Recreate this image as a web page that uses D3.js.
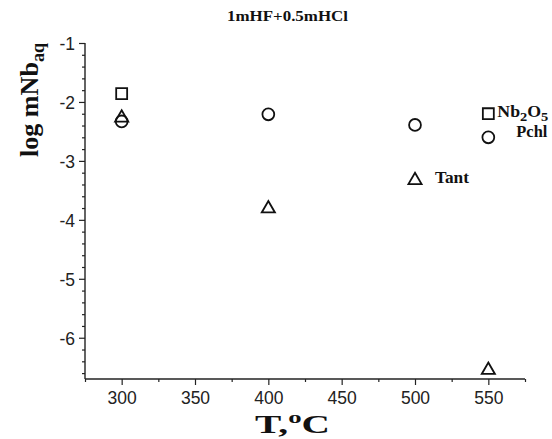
<!DOCTYPE html>
<html>
<head>
<meta charset="utf-8">
<script src="https://cdn.jsdelivr.net/npm/d3@7"></script>
<style>
  html, body { margin: 0; padding: 0; background: #fff; }
  svg { display: block; }
  .tick text { font-family: "Liberation Sans", Arial, sans-serif; font-size: 17.5px; fill: #222; }
  .serif { font-family: "Liberation Serif", "Times New Roman", serif; font-weight: bold; fill: #111; }
</style>
</head>
<body>
<svg id="chart" width="552" height="439"></svg>
<script>
// Temperatures (°C) and log molality of dissolved Nb for each solid phase
const temps = [300, 400, 500, 550];
const nb2o5 = [-1.86, null, null, -2.20];
const pchl = [-2.33, -2.21, -2.39, -2.60];
const tant = [-2.27, -3.81, -3.33, -6.55];

const xTicks = [300, 350, 400, 450, 500, 550];
const yTicks = [-1, -2, -3, -4, -5, -6];

const margin = { left: 85, right: 27, top: 43, bottom: 60 };
const W = 552, H = 439;

const svg = d3.select("#chart");

const x = d3.scaleLinear().domain([275, 575]).range([margin.left, W - margin.right]);
const y = d3.scaleLinear().domain([-6.7, -1]).range([H - margin.bottom, margin.top]);

const axisColor = "#222";
const plain = d => String(d);   // ASCII hyphen for negatives

// Minor ticks
const xMinor = d3.range(275, 576, 50);
const yMinor = d3.range(-6.6, -1.0, 0.2).map(v => +v.toFixed(1)).filter(v => !Number.isInteger(v));

const gx = svg.append("g").attr("transform", `translate(0,${y(-6.7)})`);
gx.call(d3.axisBottom(x).tickValues(xTicks).tickSize(6).tickPadding(6).tickFormat(plain));
gx.append("g").call(d3.axisBottom(x).tickValues(xMinor).tickSize(3).tickFormat(""))
  .select(".domain").remove();

const gy = svg.append("g").attr("transform", `translate(${x(275)},0)`);
gy.call(d3.axisLeft(y).tickValues(yTicks).tickSize(6).tickPadding(4).tickFormat(plain));
gy.append("g").call(d3.axisLeft(y).tickValues(yMinor).tickSize(3).tickFormat(""))
  .select(".domain").remove();

svg.selectAll(".domain").attr("stroke", axisColor).attr("stroke-width", 1.4);
svg.selectAll(".tick line").attr("stroke", axisColor).attr("stroke-width", 1.2);
// plain axis lines without outer end caps
gx.select(".domain").attr("d", `M${x(275)},0H${x(575)}`);
gy.select(".domain").attr("d", `M0,${y(-6.7)}V${y(-1)}`);
gy.selectAll(".tick text").attr("dy", "0.36em");
gx.selectAll(".tick text").attr("dy", "0.72em");

// Markers
function plotSeries(values, symbolType, size) {
  const pts = temps.map((t, i) => ({ t, v: values[i] })).filter(d => d.v !== null);
  svg.append("g").selectAll("path").data(pts).join("path")
    .attr("d", d3.symbol().type(symbolType).size(size))
    .attr("transform", d => `translate(${x(d.t)},${y(d.v)})`)
    .attr("fill", "none")
    .attr("stroke", "#111")
    .attr("stroke-width", 1.8);
}
plotSeries(nb2o5, d3.symbolSquare, 120);
plotSeries(pchl, d3.symbolCircle, 110);
plotSeries(tant, d3.symbolTriangle, 75);

// Point labels
const nbLabel = svg.append("text").attr("class", "serif").attr("font-size", 16)
  .attr("x", x(550) + 9).attr("y", y(nb2o5[3]) + 3)
  .attr("textLength", 51).attr("lengthAdjust", "spacingAndGlyphs");
nbLabel.append("tspan").text("Nb");
nbLabel.append("tspan").attr("font-size", 13).attr("dy", 4).text("2");
nbLabel.append("tspan").attr("dy", -4).text("O");
nbLabel.append("tspan").attr("font-size", 13).attr("dy", 4).text("5");

svg.append("text").attr("class", "serif").attr("font-size", 16)
  .attr("x", x(550) + 28).attr("y", y(pchl[3]) + 0)
  .attr("textLength", 31).attr("lengthAdjust", "spacingAndGlyphs").text("Pchl");

svg.append("text").attr("class", "serif").attr("font-size", 16)
  .attr("x", x(500) + 20).attr("y", y(tant[2]) + 3)
  .attr("textLength", 34).attr("lengthAdjust", "spacingAndGlyphs").text("Tant");

// Title
svg.append("text").attr("class", "serif").attr("font-size", 15)
  .attr("x", 227).attr("y", 21)
  .attr("textLength", 121).attr("lengthAdjust", "spacingAndGlyphs").text("1mHF+0.5mHCl");

// Axis titles
const xt = svg.append("text").attr("class", "serif").attr("font-size", 25)
  .attr("x", 255).attr("y", 433)
  .attr("textLength", 75).attr("lengthAdjust", "spacingAndGlyphs");
xt.append("tspan").text("T,");
xt.append("tspan").attr("font-size", 17).attr("dy", -10).text("o");
xt.append("tspan").attr("dy", 10).text("C");

const yt = svg.append("text").attr("class", "serif").attr("font-size", 26)
  .attr("transform", "translate(38,157) rotate(-90)")
  .attr("textLength", 114).attr("lengthAdjust", "spacingAndGlyphs");
yt.append("tspan").text("log mNb");
yt.append("tspan").attr("font-size", 18).attr("dy", 6).text("aq");
</script>
</body>
</html>
